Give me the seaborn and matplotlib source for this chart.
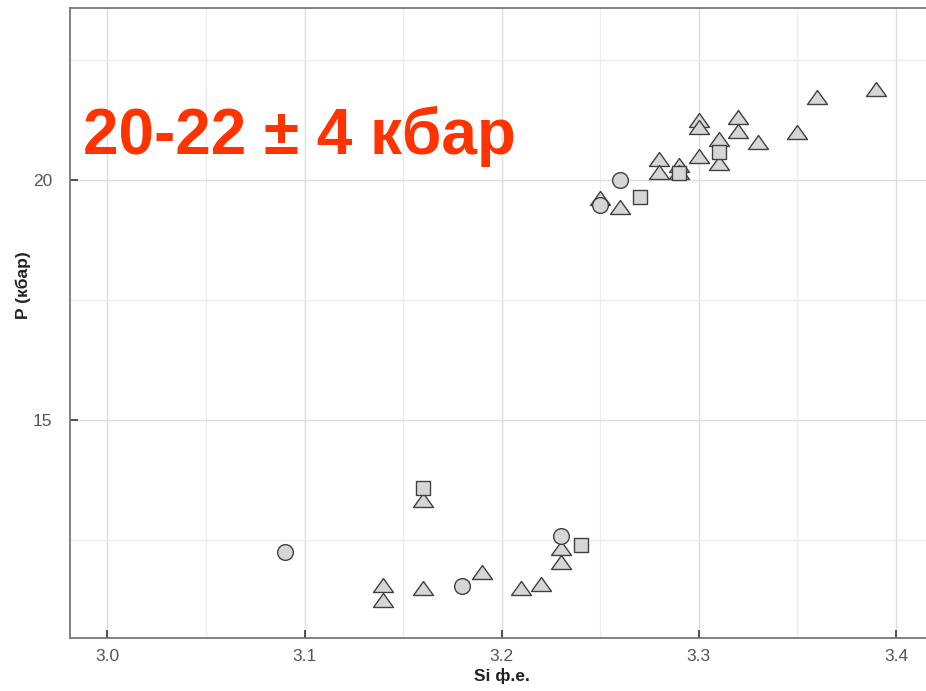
"""
P (кбар) против Si ф.е. — фенгитовый барометр
Сохраняет out.png
"""

import pandas as pd
import matplotlib.pyplot as plt
import seaborn as sns
from matplotlib.path import Path
from matplotlib.ticker import MultipleLocator

# треугольники
tri_si = [3.39, 3.36, 3.35, 3.32, 3.32, 3.33, 3.30, 3.30, 3.31, 3.31, 3.30,
          3.28, 3.28, 3.29, 3.29, 3.25, 3.26,
          3.16, 3.14, 3.14, 3.16, 3.19, 3.21, 3.22, 3.23, 3.23]
tri_p = [21.90, 21.72, 21.00, 21.32, 21.02, 20.80, 21.25, 21.10, 20.85, 20.36, 20.50,
         20.44, 20.17, 20.31, 20.17, 19.63, 19.44,
         13.33, 11.56, 11.26, 11.51, 11.84, 11.51, 11.58, 12.33, 12.05]

# квадраты
sq_si = [3.31, 3.29, 3.27, 3.16, 3.24]
sq_p = [20.59, 20.15, 19.65, 13.58, 12.40]

# кружки
ci_si = [3.26, 3.25, 3.09, 3.18, 3.23]
ci_p = [20.01, 19.48, 12.24, 11.55, 12.58]

x_ticks = [3.0, 3.1, 3.2, 3.3, 3.4]
y_ticks = [15, 20]

# сплющенный треугольник
tri_marker = Path([(-1, -0.7), (1, -0.7), (0, 0.7), (-1, -0.7)], closed=True)

sns.set_style('ticks')
plt.rcParams['font.family'] = ['Liberation Sans', 'DejaVu Sans']


def main():
    df = pd.concat([
        pd.DataFrame({'si': tri_si, 'p': tri_p, 'kind': 'tri'}),
        pd.DataFrame({'si': sq_si, 'p': sq_p, 'kind': 'sq'}),
        pd.DataFrame({'si': ci_si, 'p': ci_p, 'kind': 'ci'}),
    ], ignore_index=True)

    fig = plt.figure(figsize=(9.26, 6.91), dpi=100)
    ax = fig.add_axes([70 / 926, 53 / 691, 856 / 926, 630 / 691])

    styles = {'tri': (tri_marker, 207), 'sq': ('s', 92), 'ci': ('o', 128)}
    for kind, (marker, size) in styles.items():
        sns.scatterplot(data=df[df['kind'] == kind], x='si', y='p',
                        marker=marker, s=size, color='#d6d6d6',
                        edgecolor='#404040', linewidth=1.0, zorder=3, ax=ax)

    ax.set_xlim(2.981, 3.4152)
    ax.set_ylim(10.458, 23.583)
    ax.set_xticks(x_ticks)
    ax.set_xticklabels([f'{t:.1f}' for t in x_ticks])
    ax.set_yticks(y_ticks)
    ax.xaxis.set_minor_locator(MultipleLocator(0.05))
    ax.yaxis.set_minor_locator(MultipleLocator(2.5))

    ax.grid(which='major', color='#dedede', linewidth=1.0, zorder=0)
    ax.grid(which='minor', color='#ececec', linewidth=1.0, zorder=0)
    ax.set_axisbelow(True)

    ax.tick_params(which='major', direction='in', length=6, width=1.3,
                   color='#444444', labelcolor='#555555', labelsize=12.5)
    ax.tick_params(axis='x', pad=8)
    ax.tick_params(axis='y', pad=13)
    ax.tick_params(which='minor', length=0)

    for side in ['left', 'bottom', 'top']:
        ax.spines[side].set_color('#777777')
        ax.spines[side].set_linewidth(1.3)
    ax.spines['right'].set_visible(False)

    ax.set_xlabel('Si ф.е.', fontsize=12.5, fontweight='bold', color='#222222')
    ax.set_ylabel('P (кбар)', fontsize=12.5, fontweight='bold', color='#222222')
    ax.xaxis.set_label_coords(0.505, -0.047)
    ax.yaxis.set_label_coords(-0.045, 0.56)

    fig.text(83 / 926, 1 - 154 / 691, '20-22 ± 4 кбар', fontsize=46,
             fontweight='bold', color='#ff3300', ha='left', va='baseline')

    fig.savefig('out.png', dpi=100)
    plt.close(fig)


if __name__ == '__main__':
    main()
